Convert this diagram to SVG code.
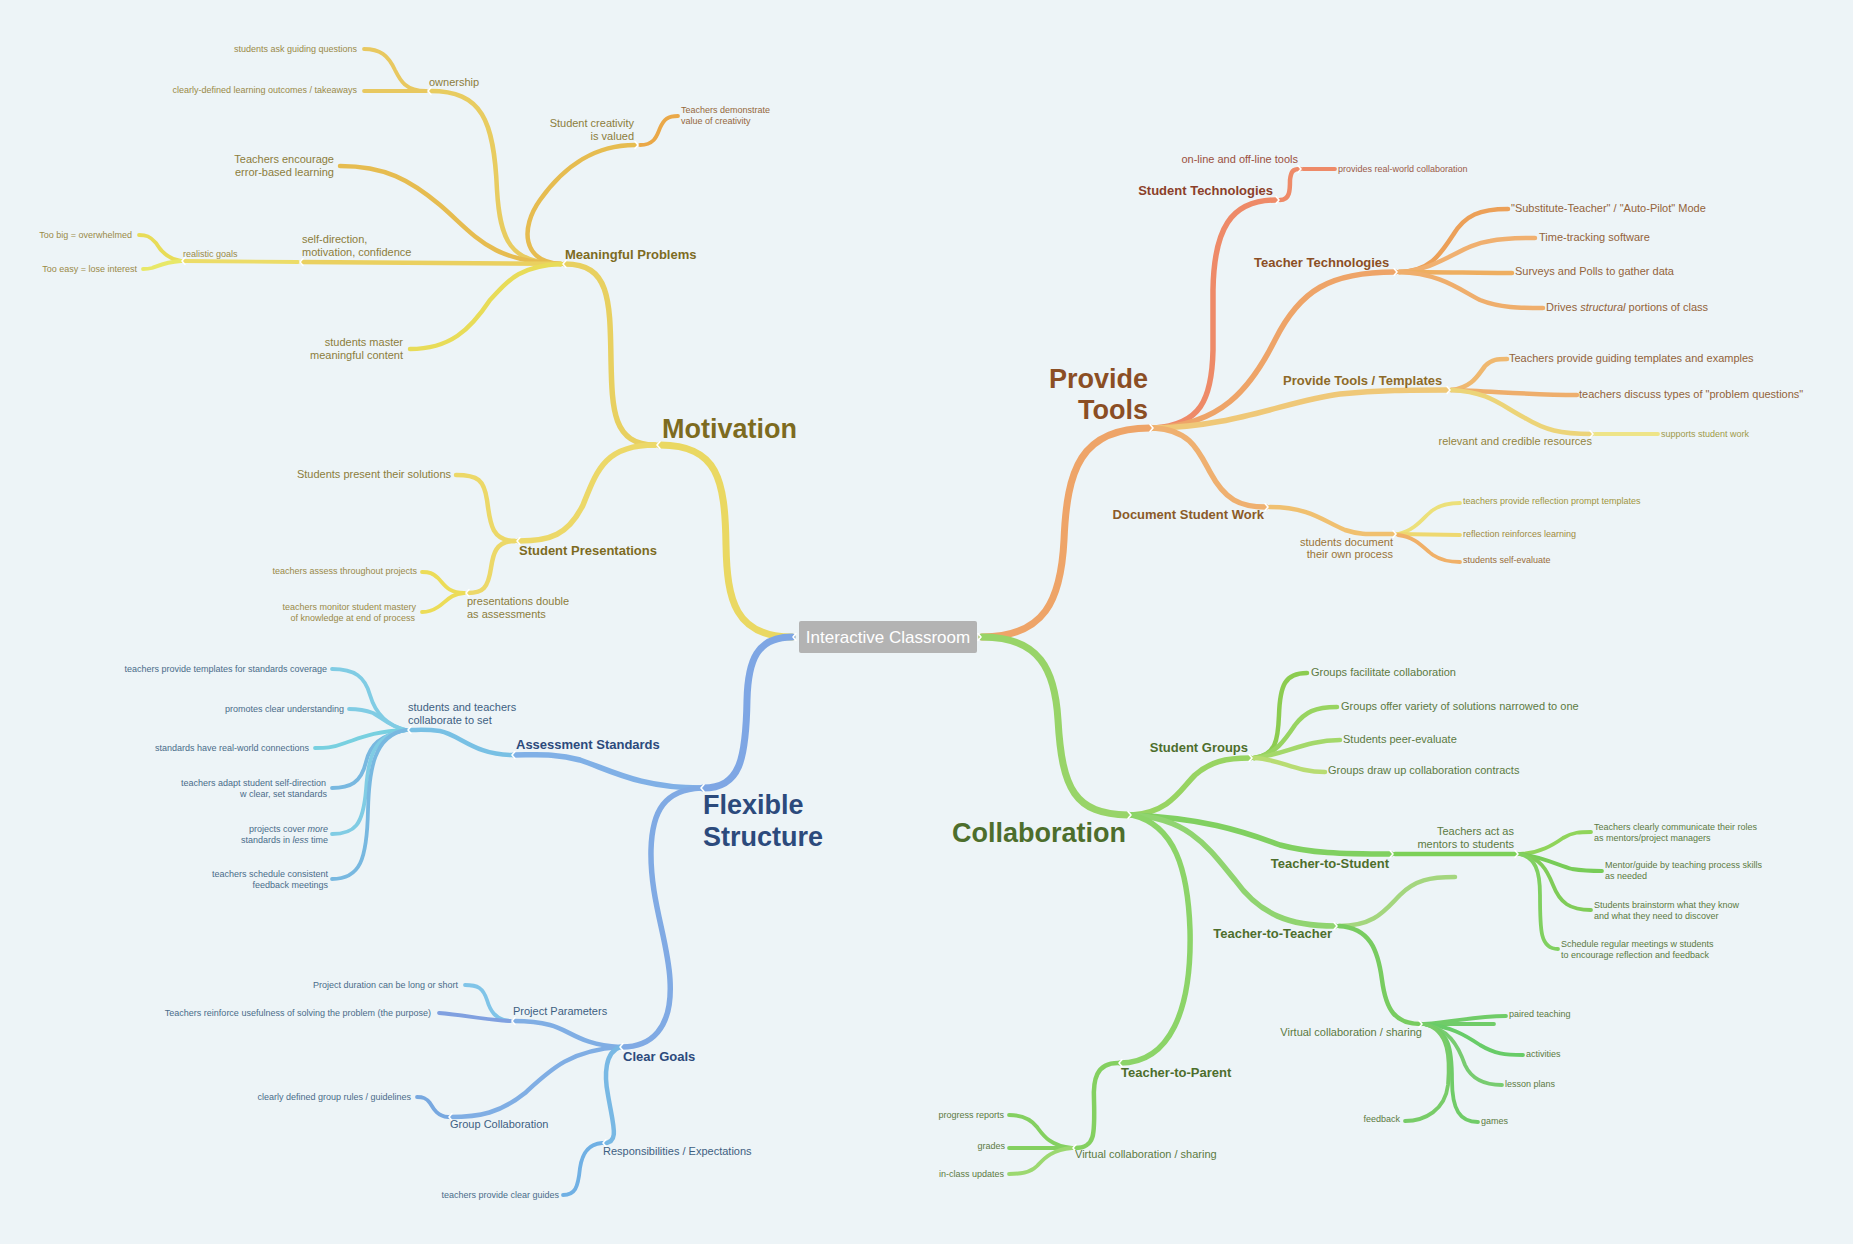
<svg xmlns="http://www.w3.org/2000/svg" xmlns:xlink="http://www.w3.org/1999/xlink" width="1853" height="1244" viewBox="0 0 1853 1244">
<defs>
<style>
text{font-family:"Liberation Sans",Arial,sans-serif}
.s9{font-size:9px}.s11{font-size:11px}.b13{font-size:13px;font-weight:bold}.b27{font-size:27px;font-weight:bold}
.e{text-anchor:end}
#connectors path{fill:none;stroke-linecap:round}
.w7{stroke-width:7}.w5{stroke-width:5.5}.w4{stroke-width:4.5}.w3{stroke-width:3.8}
.nk{fill:none;stroke:#ffffff;stroke-width:1.6;stroke-linecap:round;stroke-linejoin:round}
.my{fill:#7d6b1f}.my2{fill:#8c7d3c}.my3{fill:#9a8a48}
.pt{fill:#8b4e24}.pt2{fill:#93633a}.pt3{fill:#9c7040}
.cg{fill:#4d6e2c}.cg2{fill:#5c7a42}
.fs{fill:#2c4a7c}.fs2{fill:#3e5f82}.fs3{fill:#4a6c8a}
</style>
<path id="nkL" class="nk" d="M3,-3.5 L0,0 L3,3.5"/>
<path id="nkR" class="nk" d="M-3,-3.5 L0,0 L-3,3.5"/>
</defs>
<rect width="1853" height="1244" fill="#edf4f7"/>

<g id="connectors">
<!-- main branches -->
<path class="w7" stroke="#ead862" d="M792,637 C735,637 727,600 726,545 C725,480 718,445 660,445"/>
<path class="w7" stroke="#eea468" d="M982,637 C1045,637 1061,600 1064,540 C1067,470 1080,428 1150,428"/>
<path class="w7" stroke="#98d468" d="M982,637 C1040,637 1055,670 1058,720 C1062,790 1075,814 1128,815"/>
<path class="w7" stroke="#7ea6e4" d="M792,637 C757,637 748,660 747,700 C746,760 740,788 703,788"/>
<!-- level 2 -->
<path class="w5" stroke="#e8d060" d="M655,445 C613,445 612,410 611,360 C610,300 610,264 565,264"/>
<path class="w5" stroke="#ecd868" d="M655,445 C605,445 597,470 583,505 C568,535 550,541 519,541"/>
<path class="w5" stroke="#ee8a68" d="M1154,428 C1200,425 1212,400 1213,350 L1213,290 C1214,230 1230,200 1276,200"/>
<path class="w5" stroke="#eea468" d="M1154,428 C1220,425 1250,390 1275,340 C1300,290 1330,272 1395,272"/>
<path class="w5" stroke="#efc878" d="M1154,428 C1230,428 1290,400 1340,394 C1380,390 1410,390 1447,390"/>
<path class="w5" stroke="#efb070" d="M1154,428 C1190,430 1198,450 1210,472 C1225,500 1240,507 1266,507"/>
<path class="w5" stroke="#98d462" d="M1132,815 C1170,812 1180,790 1195,775 C1210,762 1225,758 1250,758"/>
<path class="w5" stroke="#80d060" d="M1132,815 C1200,818 1240,830 1280,845 C1310,853 1340,854 1391,854"/>
<path class="w5" stroke="#90d470" d="M1132,815 C1190,818 1210,850 1235,880 C1260,915 1290,926 1335,926"/>
<path class="w5" stroke="#8cd468" d="M1132,815 C1175,825 1188,870 1190,930 C1192,1010 1170,1063 1120,1063"/>
<path class="w5" stroke="#80b0e6" d="M701,788 C640,788 610,770 580,760 C555,753 535,755 514,755"/>
<path class="w5" stroke="#80aae4" d="M701,788 C665,790 652,810 651,850 C650,900 668,940 670,980 C673,1030 650,1047 622,1047"/>
<!-- level 3 -->
<path class="w4" stroke="#e8cc60" d="M561,264 C510,264 500,240 497,190 C494,120 482,91 430,91"/>
<path class="w4" stroke="#e6bc50" d="M561,264 C522,262 520,228 540,200 C565,165 595,145 635,145"/>
<path class="w4" stroke="#e6bc50" d="M561,264 C490,262 475,235 440,205 C410,180 385,166 340,166"/>
<path class="w4" stroke="#ead060" d="M561,264 C480,263 400,262 302,262"/>
<path class="w4" stroke="#e8dc58" d="M561,264 C515,266 505,285 490,300 C470,330 450,349 410,349"/>
<path class="w4" stroke="#ecd868" d="M515,541 C490,541 490,520 487,500 C484,480 478,475 456,475"/>
<path class="w4" stroke="#ecd868" d="M515,541 C495,541 493,555 491,568 C488,588 483,593 468,593"/>
<path class="w4" stroke="#ee8a68" d="M1280,200 C1290,200 1290,190 1290,180 C1291,171 1293,169 1300,169"/>
<path class="w4" stroke="#eca058" d="M1399,272 C1430,271 1440,255 1453,235 C1465,215 1480,209 1508,209"/>
<path class="w4" stroke="#f0b070" d="M1399,272 C1440,270 1460,245 1490,241 C1505,238 1520,238 1535,238"/>
<path class="w4" stroke="#eeae60" d="M1399,272 C1440,272 1480,273 1512,273"/>
<path class="w4" stroke="#efae6c" d="M1399,272 C1440,273 1460,290 1480,300 C1500,308 1520,308 1543,308"/>
<path class="w4" stroke="#efb870" d="M1451,390 C1472,388 1478,375 1485,366 C1492,359 1498,359 1507,359"/>
<path class="w4" stroke="#eeae6c" d="M1451,390 C1490,391 1530,395 1577,395"/>
<path class="w4" stroke="#ecd478" d="M1451,390 C1490,392 1500,405 1525,418 C1545,430 1560,434 1592,434"/>
<path class="w4" stroke="#f0c070" d="M1270,507 C1310,507 1325,522 1345,530 C1360,535 1370,534 1395,534"/>
<path class="w4" stroke="#8ccc50" d="M1254,758 C1276,755 1278,740 1279,715 C1280,685 1285,673 1307,673"/>
<path class="w4" stroke="#98d460" d="M1254,758 C1275,755 1285,740 1295,725 C1305,712 1315,707 1337,707"/>
<path class="w4" stroke="#a4d86a" d="M1254,758 C1285,755 1305,740 1340,740"/>
<path class="w4" stroke="#b8dc72" d="M1254,758 C1280,759 1295,772 1325,772"/>
<path class="w4" stroke="#7cd058" d="M1395,854 L1517,854"/>
<path class="w4" stroke="#a4d67e" d="M1339,926 C1375,926 1385,910 1400,895 C1415,880 1430,877 1455,877"/>
<path class="w4" stroke="#78cc60" d="M1339,926 C1370,928 1378,950 1382,980 C1386,1010 1395,1024 1421,1024"/>
<path class="w4" stroke="#84d060" d="M1118,1063 C1096,1063 1093,1080 1094,1100 C1095,1135 1095,1148 1075,1148"/>
<path class="w4" stroke="#78c0e4" d="M512,755 C475,755 460,735 440,731 C425,729 418,730 410,730"/>
<path class="w4" stroke="#80aee4" d="M620,1047 C580,1045 570,1030 550,1025 C535,1021 525,1021 514,1021"/>
<path class="w4" stroke="#80aee4" d="M620,1047 C570,1050 550,1070 525,1093 C500,1113 480,1117 450,1117"/>
<path class="w4" stroke="#78b8e4" d="M620,1047 C605,1052 604,1075 608,1095 C613,1125 620,1143 604,1143"/>
<!-- level 4 -->
<path class="w3" stroke="#e8c860" d="M426,91 C405,91 400,80 395,70 C388,55 380,49 364,49"/>
<path class="w3" stroke="#e8c860" d="M426,91 L364,91"/>
<path class="w3" stroke="#eaa848" d="M640,145 C655,145 657,135 660,128 C664,119 668,116 678,116"/>
<path class="w3" stroke="#ecdc68" d="M298,262 L184,261"/>
<path class="w3" stroke="#e8dc58" d="M181,261 C168,259 160,250 156,243 C150,236 146,235 139,235"/>
<path class="w3" stroke="#e8e868" d="M181,261 C165,262 158,266 152,268 C148,269 146,269 143,269"/>
<path class="w3" stroke="#ecdc58" d="M464,593 C448,593 445,585 438,578 C432,573 430,572 422,572"/>
<path class="w3" stroke="#ecdc58" d="M464,593 C450,594 446,602 438,607 C432,611 428,612 422,612"/>
<path class="w3" stroke="#ee8a68" d="M1303,169 L1335,169"/>
<path class="w3" stroke="#eee488" d="M1595,434 L1658,434"/>
<path class="w3" stroke="#ece07a" d="M1398,534 C1417,530 1425,515 1433,510 C1442,504 1450,503 1460,503"/>
<path class="w3" stroke="#eed870" d="M1398,534 L1460,535"/>
<path class="w3" stroke="#f0b068" d="M1398,535 C1417,537 1425,550 1433,555 C1442,561 1450,562 1460,562"/>
<path class="w3" stroke="#90d45a" d="M1520,854 C1540,853 1553,845 1563,838 C1573,832 1580,832 1591,832"/>
<path class="w3" stroke="#78cc58" d="M1520,854 C1540,856 1560,866 1572,869 C1585,871 1592,871 1602,871"/>
<path class="w3" stroke="#80cc58" d="M1520,854 C1540,857 1547,870 1553,885 C1560,903 1570,910 1591,910"/>
<path class="w3" stroke="#80d060" d="M1520,854 C1535,858 1540,870 1540,895 C1540,930 1540,949 1558,949"/>
<path class="w3" stroke="#70cc68" d="M1424,1024 C1460,1021 1475,1016 1506,1016"/>
<path class="w3" stroke="#70cc68" d="M1424,1024 L1494,1024"/>
<path class="w3" stroke="#68cc68" d="M1424,1024 C1450,1026 1465,1035 1480,1045 C1495,1054 1505,1055 1523,1055"/>
<path class="w3" stroke="#78cc70" d="M1424,1024 C1448,1028 1458,1045 1465,1065 C1472,1080 1485,1085 1502,1085"/>
<path class="w3" stroke="#70cc68" d="M1424,1024 C1450,1030 1452,1050 1452,1080 C1452,1110 1460,1122 1478,1122"/>
<path class="w3" stroke="#78cc68" d="M1424,1024 C1450,1030 1450,1060 1448,1085 C1445,1110 1425,1121 1405,1121"/>
<path class="w3" stroke="#84d060" d="M1072,1148 C1050,1146 1043,1135 1037,1127 C1030,1118 1020,1115 1009,1115"/>
<path class="w3" stroke="#84d060" d="M1072,1148 L1009,1148"/>
<path class="w3" stroke="#9cd870" d="M1072,1148 C1050,1150 1043,1160 1037,1166 C1030,1173 1020,1174 1009,1174"/>
<path class="w3" stroke="#80cce4" d="M406,730 C385,725 375,712 370,695 C365,677 355,669 332,669"/>
<path class="w3" stroke="#80cce4" d="M406,730 C390,727 382,718 373,713 C365,710 358,709 349,709"/>
<path class="w3" stroke="#78d0e0" d="M406,730 C375,731 360,738 345,743 C332,748 325,748 315,748"/>
<path class="w3" stroke="#78b8e0" d="M406,730 C380,735 370,745 366,762 C361,783 350,788 332,788"/>
<path class="w3" stroke="#80cce4" d="M406,730 C372,735 368,760 366,790 C363,825 355,834 332,834"/>
<path class="w3" stroke="#78b8e0" d="M406,730 C374,735 369,770 368,810 C367,860 360,879 332,879"/>
<path class="w3" stroke="#80c4e8" d="M510,1021 C495,1020 490,1010 487,1000 C483,988 478,985 465,985"/>
<path class="w3" stroke="#80a0e0" d="M510,1021 C485,1020 465,1015 439,1013"/>
<path class="w3" stroke="#78a8e0" d="M448,1117 C437,1116 433,1108 430,1103 C426,1098 423,1097 417,1097"/>
<path class="w3" stroke="#70b0e4" d="M602,1143 C587,1144 582,1155 580,1168 C578,1188 575,1195 563,1195"/>
<!-- junction notches -->
<use xlink:href="#nkL" transform="translate(793,637)"/>
<use xlink:href="#nkL" transform="translate(657,445)"/>
<use xlink:href="#nkL" transform="translate(563,264)"/>
<use xlink:href="#nkL" transform="translate(517,541)"/>
<use xlink:href="#nkL" transform="translate(428,91)"/>
<use xlink:href="#nkL" transform="translate(300,262)"/>
<use xlink:href="#nkL" transform="translate(182,261)"/>
<use xlink:href="#nkL" transform="translate(466,593)"/>
<use xlink:href="#nkR" transform="translate(638,145)"/>
<use xlink:href="#nkL" transform="translate(701,788)"/>
<use xlink:href="#nkL" transform="translate(512,755)"/>
<use xlink:href="#nkL" transform="translate(408,730)"/>
<use xlink:href="#nkL" transform="translate(620,1047)"/>
<use xlink:href="#nkL" transform="translate(512,1021)"/>
<use xlink:href="#nkL" transform="translate(449,1117)"/>
<use xlink:href="#nkL" transform="translate(603,1143)"/>
<use xlink:href="#nkR" transform="translate(981,637)"/>
<use xlink:href="#nkR" transform="translate(1153,428)"/>
<use xlink:href="#nkR" transform="translate(1279,200)"/>
<use xlink:href="#nkR" transform="translate(1301,169)"/>
<use xlink:href="#nkR" transform="translate(1397,272)"/>
<use xlink:href="#nkR" transform="translate(1450,390)"/>
<use xlink:href="#nkR" transform="translate(1268,507)"/>
<use xlink:href="#nkR" transform="translate(1396,534)"/>
<use xlink:href="#nkR" transform="translate(1593,434)"/>
<use xlink:href="#nkR" transform="translate(1131,815)"/>
<use xlink:href="#nkR" transform="translate(1252,758)"/>
<use xlink:href="#nkR" transform="translate(1393,854)"/>
<use xlink:href="#nkR" transform="translate(1518,854)"/>
<use xlink:href="#nkR" transform="translate(1337,926)"/>
<use xlink:href="#nkR" transform="translate(1422,1024)"/>
<use xlink:href="#nkL" transform="translate(1119,1063)"/>
<use xlink:href="#nkL" transform="translate(1073,1148)"/>
</g>

<g id="center">
<rect x="799" y="621" width="178" height="32" rx="2" fill="#b3b3b3"/>
<text x="888" y="643" font-size="17" text-anchor="middle" fill="#ffffff">Interactive Classroom</text>
</g>

<g id="motivation">
<text class="b27 my" x="662" y="438">Motivation</text>
</g>
<g id="meaningful-problems"><text class="b13 my" x="565" y="259">Meaningful Problems</text></g>
<g id="ownership"><text class="s11 my2" x="429" y="86">ownership</text></g>
<g id="ask-questions"><text class="s9 my3 e" x="357" y="52">students ask guiding questions</text></g>
<g id="outcomes"><text class="s9 my3 e" x="357" y="93">clearly-defined learning outcomes / takeaways</text></g>
<g id="creativity"><text class="s11 my2 e" y="127"><tspan x="634">Student creativity</tspan><tspan x="634" y="140">is valued</tspan></text></g>
<g id="demonstrate"><text class="s9" fill="#95683c" y="113"><tspan x="681">Teachers demonstrate</tspan><tspan x="681" y="124">value of creativity</tspan></text></g>
<g id="error-based"><text class="s11 my2 e" y="163"><tspan x="334">Teachers encourage</tspan><tspan x="334" y="176">error-based learning</tspan></text></g>
<g id="self-direction"><text class="s11 my2" y="243"><tspan x="302">self-direction,</tspan><tspan x="302" y="256">motivation, confidence</tspan></text></g>
<g id="realistic-goals"><text class="s9 my3" x="183" y="257">realistic goals</text></g>
<g id="too-big"><text class="s9 my3 e" x="132" y="238">Too big = overwhelmed</text></g>
<g id="too-easy"><text class="s9 my3 e" x="137" y="272">Too easy = lose interest</text></g>
<g id="master"><text class="s11 my2 e" y="346"><tspan x="403">students master</tspan><tspan x="403" y="359">meaningful content</tspan></text></g>
<g id="student-presentations"><text class="b13 my" x="519" y="555">Student Presentations</text></g>
<g id="present-solutions"><text class="s11 my2 e" x="451" y="478">Students present their solutions</text></g>
<g id="double-assess"><text class="s11 my2" y="605"><tspan x="467">presentations double</tspan><tspan x="467" y="618">as assessments</tspan></text></g>
<g id="assess-throughout"><text class="s9 my3 e" x="417" y="574">teachers assess throughout projects</text></g>
<g id="monitor"><text class="s9 my3 e" y="610"><tspan x="416">teachers monitor student mastery</tspan><tspan x="415" y="621">of knowledge at end of process</tspan></text></g>

<g id="provide-tools"><text class="b27 pt e" y="388"><tspan x="1148">Provide</tspan><tspan x="1148" y="419">Tools</tspan></text></g>
<g id="student-tech"><text class="b13 e" fill="#8b3f2a" x="1273" y="195">Student Technologies</text></g>
<g id="online-tools"><text class="s11 e" fill="#9b5040" x="1298" y="163">on-line and off-line tools</text></g>
<g id="real-world"><text class="s9" fill="#9b5a48" x="1338" y="172">provides real-world collaboration</text></g>
<g id="teacher-tech"><text class="b13 pt" x="1254" y="267">Teacher Technologies</text></g>
<g id="substitute"><text class="s11 pt2" x="1511" y="212">"Substitute-Teacher" / "Auto-Pilot" Mode</text></g>
<g id="time-tracking"><text class="s11 pt2" x="1539" y="241">Time-tracking software</text></g>
<g id="surveys"><text class="s11 pt2" x="1515" y="275">Surveys and Polls to gather data</text></g>
<g id="drives"><text class="s11 pt2" x="1546" y="311">Drives <tspan font-style="italic">structural</tspan> portions of class</text></g>
<g id="templates"><text class="b13" fill="#8d6a28" x="1283" y="385">Provide Tools / Templates</text></g>
<g id="guiding-templates"><text class="s11 pt2" x="1509" y="362">Teachers provide guiding templates and examples</text></g>
<g id="problem-questions"><text class="s11 pt2" x="1579" y="398">teachers discuss types of "problem questions"</text></g>
<g id="resources"><text class="s11 e" fill="#948440" x="1592" y="445">relevant and credible resources</text></g>
<g id="supports"><text class="s9" fill="#a09a48" x="1661" y="437">supports student work</text></g>
<g id="document-work"><text class="b13 e" fill="#8b5a28" x="1264" y="519">Document Student Work</text></g>
<g id="own-process"><text class="s11 e" fill="#9a7438" y="546"><tspan x="1393">students document</tspan><tspan x="1393" y="558">their own process</tspan></text></g>
<g id="reflection-prompt"><text class="s9" fill="#a0963e" x="1463" y="504">teachers provide reflection prompt templates</text></g>
<g id="reflection-reinforces"><text class="s9" fill="#a08a40" x="1463" y="537">reflection reinforces learning</text></g>
<g id="self-evaluate"><text class="s9" fill="#9a6e3c" x="1463" y="563">students self-evaluate</text></g>

<g id="collaboration"><text class="b27 cg e" x="1126" y="842">Collaboration</text></g>
<g id="student-groups"><text class="b13 cg e" x="1248" y="752">Student Groups</text></g>
<g id="facilitate"><text class="s11 cg2" x="1311" y="676">Groups facilitate collaboration</text></g>
<g id="variety"><text class="s11 cg2" x="1341" y="710">Groups offer variety of solutions narrowed to one</text></g>
<g id="peer-evaluate"><text class="s11 cg2" x="1343" y="743">Students peer-evaluate</text></g>
<g id="contracts"><text class="s11 cg2" x="1328" y="774">Groups draw up collaboration contracts</text></g>
<g id="teacher-student"><text class="b13 cg e" x="1389" y="868">Teacher-to-Student</text></g>
<g id="mentors"><text class="s11 cg2 e" y="835"><tspan x="1514">Teachers act as</tspan><tspan x="1514" y="848">mentors to students</tspan></text></g>
<g id="roles"><text class="s9 cg2" y="830"><tspan x="1594">Teachers clearly communicate their roles</tspan><tspan x="1594" y="841">as mentors/project managers</tspan></text></g>
<g id="mentor-guide"><text class="s9 cg2" y="868"><tspan x="1605">Mentor/guide by teaching process skills</tspan><tspan x="1605" y="879">as needed</tspan></text></g>
<g id="brainstorm"><text class="s9 cg2" y="908"><tspan x="1594">Students brainstorm what they know</tspan><tspan x="1594" y="919">and what they need to discover</tspan></text></g>
<g id="meetings"><text class="s9 cg2" y="947"><tspan x="1561">Schedule regular meetings w students</tspan><tspan x="1561" y="958">to encourage reflection and feedback</tspan></text></g>
<g id="teacher-teacher"><text class="b13 cg e" x="1332" y="938">Teacher-to-Teacher</text></g>
<g id="virtual-tt"><text class="s11 cg2 e" x="1422" y="1036">Virtual collaboration / sharing</text></g>
<g id="paired"><text class="s9 cg2" x="1509" y="1017">paired teaching</text></g>
<g id="activities"><text class="s9 cg2" x="1526" y="1057">activities</text></g>
<g id="lesson-plans"><text class="s9 cg2" x="1505" y="1087">lesson plans</text></g>
<g id="games"><text class="s9 cg2" x="1481" y="1124">games</text></g>
<g id="feedback"><text class="s9 cg2 e" x="1400" y="1122">feedback</text></g>
<g id="teacher-parent"><text class="b13 cg" x="1121" y="1077">Teacher-to-Parent</text></g>
<g id="virtual-tp"><text class="s11 cg2" x="1075" y="1158">Virtual collaboration / sharing</text></g>
<g id="progress"><text class="s9 cg2 e" x="1004" y="1118">progress reports</text></g>
<g id="grades"><text class="s9 cg2 e" x="1005" y="1149">grades</text></g>
<g id="in-class"><text class="s9 cg2 e" x="1004" y="1177">in-class updates</text></g>

<g id="flexible-structure"><text class="b27 fs" y="814"><tspan x="703">Flexible</tspan><tspan x="703" y="846">Structure</tspan></text></g>
<g id="assessment-standards"><text class="b13 fs" x="516" y="749">Assessment Standards</text></g>
<g id="collaborate-set"><text class="s11 fs2" y="711"><tspan x="408">students and teachers</tspan><tspan x="408" y="724">collaborate to set</tspan></text></g>
<g id="coverage"><text class="s9 fs3 e" x="327" y="672">teachers provide templates for standards coverage</text></g>
<g id="promotes"><text class="s9 fs3 e" x="344" y="712">promotes clear understanding</text></g>
<g id="connections"><text class="s9 fs3 e" x="309" y="751">standards have real-world connections</text></g>
<g id="adapt"><text class="s9 fs3 e" y="786"><tspan x="326">teachers adapt student self-direction</tspan><tspan x="327" y="797">w clear, set standards</tspan></text></g>
<g id="more-less"><text class="s9 fs3 e" y="832"><tspan x="328">projects cover <tspan font-style="italic">more</tspan></tspan><tspan x="328" y="843">standards in <tspan font-style="italic">less</tspan> time</tspan></text></g>
<g id="feedback-meetings"><text class="s9 fs3 e" y="877"><tspan x="328">teachers schedule consistent</tspan><tspan x="328" y="888">feedback meetings</tspan></text></g>
<g id="clear-goals"><text class="b13 fs" x="623" y="1061">Clear Goals</text></g>
<g id="project-parameters"><text class="s11 fs2" x="513" y="1015">Project Parameters</text></g>
<g id="duration"><text class="s9 fs3 e" x="458" y="988">Project duration can be long or short</text></g>
<g id="purpose"><text class="s9 fs3 e" x="431" y="1016">Teachers reinforce usefulness of solving the problem (the purpose)</text></g>
<g id="group-collaboration"><text class="s11 fs2" x="450" y="1128">Group Collaboration</text></g>
<g id="group-rules"><text class="s9 fs3 e" x="411" y="1100">clearly defined group rules / guidelines</text></g>
<g id="responsibilities"><text class="s11 fs2" x="603" y="1155">Responsibilities / Expectations</text></g>
<g id="clear-guides"><text class="s9 fs3 e" x="559" y="1198">teachers provide clear guides</text></g>
</svg>
